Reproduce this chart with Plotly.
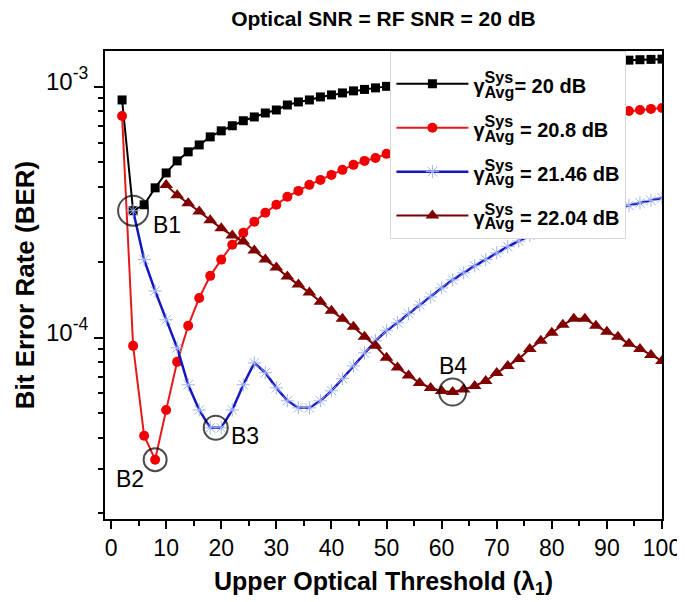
"""
BER vs upper optical threshold, four system SNR levels
"""

import numpy as np
import plotly.graph_objects as go

# Upper optical threshold (lambda_1) for each curve
thr_20 = list(range(2, 101, 2))
thr_208 = list(range(2, 101, 2))
thr_2146 = list(range(4, 101, 2))
thr_2204 = list(range(10, 101, 2))

# Bit error rate
ber_20 = [8.87e-4, 3.21e-4, 3.39e-4, 3.96e-4, 4.54e-4, 5.07e-4, 5.51e-4, 5.87e-4, 6.32e-4, 6.68e-4,
          7.00e-4, 7.33e-4, 7.59e-4, 7.87e-4, 8.09e-4, 8.47e-4, 8.71e-4, 8.87e-4, 9.12e-4, 9.29e-4,
          9.46e-4, 9.64e-4, 9.77e-4, 9.91e-4, 1.005e-3, 1.018e-3, 1.031e-3, 1.044e-3, 1.057e-3, 1.069e-3,
          1.081e-3, 1.093e-3, 1.105e-3, 1.117e-3, 1.130e-3, 1.142e-3, 1.154e-3, 1.166e-3, 1.178e-3, 1.190e-3,
          1.203e-3, 1.217e-3, 1.230e-3, 1.243e-3, 1.256e-3, 1.268e-3, 1.278e-3, 1.283e-3, 1.287e-3, 1.290e-3]

ber_208 = [7.66e-4, 9.29e-5, 4.07e-5, 3.27e-5, 5.16e-5, 8.02e-5, 1.117e-4, 1.442e-4, 1.766e-4, 2.05e-4,
           2.35e-4, 2.62e-4, 2.90e-4, 3.15e-4, 3.39e-4, 3.65e-4, 3.85e-4, 4.07e-4, 4.26e-4, 4.46e-4,
           4.67e-4, 4.89e-4, 5.07e-4, 5.21e-4, 5.41e-4, 5.58e-4, 5.74e-4, 5.89e-4, 6.04e-4, 6.18e-4,
           6.32e-4, 6.45e-4, 6.58e-4, 6.70e-4, 6.82e-4, 6.94e-4, 7.05e-4, 7.16e-4, 7.27e-4, 7.37e-4,
           7.47e-4, 7.57e-4, 7.66e-4, 7.75e-4, 7.84e-4, 7.93e-4, 8.02e-4, 8.09e-4, 8.17e-4, 8.24e-4]

ber_2146 = [3.21e-4, 2.05e-4, 1.538e-4, 1.180e-4, 9.12e-5, 6.50e-5, 5.16e-5, 4.38e-5, 4.38e-5, 5.16e-5,
            6.50e-5, 7.94e-5, 7.26e-5, 6.32e-5, 5.61e-5, 5.26e-5, 5.26e-5, 5.61e-5, 6.15e-5, 6.87e-5,
            7.73e-5, 8.71e-5, 9.73e-5, 1.067e-4, 1.148e-4, 1.247e-4, 1.352e-4, 1.455e-4, 1.581e-4, 1.702e-4,
            1.816e-4, 1.936e-4, 2.05e-4, 2.18e-4, 2.31e-4, 2.43e-4, 2.56e-4, 2.69e-4, 2.81e-4, 2.93e-4,
            3.04e-4, 3.14e-4, 3.21e-4, 3.27e-4, 3.32e-4, 3.37e-4, 3.45e-4, 3.53e-4, 3.61e-4]

ber_2204 = [4.06e-4, 3.70e-4, 3.44e-4, 3.19e-4, 2.94e-4, 2.73e-4, 2.56e-4, 2.42e-4, 2.23e-4, 2.05e-4,
            1.905e-4, 1.754e-4, 1.63e-4, 1.514e-4, 1.393e-4, 1.282e-4, 1.191e-4, 1.107e-4, 1.009e-4, 9.29e-5,
            8.32e-5, 7.62e-5, 7.08e-5, 6.61e-5, 6.31e-5, 6.14e-5, 6.08e-5, 6.22e-5, 6.43e-5, 6.73e-5,
            7.24e-5, 7.73e-5, 8.24e-5, 9.03e-5, 9.73e-5, 1.047e-4, 1.127e-4, 1.191e-4, 1.191e-4, 1.117e-4,
            1.057e-4, 1.009e-4, 9.46e-5, 9.03e-5, 8.55e-5, 8.09e-5]

legend_names = ['20', '20.8', '21.46', '22.04']
point_labels = ['B1', 'B2', 'B3', 'B4']
y_tickvals = [1e-4, 1e-3]
y_ticktext = ['-4', '-3']

FONT = 'Arial, Liberation Sans, sans-serif'


def gamma_name(val, gap=' '):
    # legend font is 23px so that Sys/Avg come out ~16px; main text kept at 20px.
    # the negative letter-spacing pulls "Avg" back under "Sys"
    return (f"<span style='font-size:20px'>γ</span><sup>Sys</sup>"
            f"<span style='letter-spacing:-35px'>\u00a0</span>"
            f"<sub>Avg</sub><span style='font-size:20px'>{gap}= {val} dB</span>")


fig = go.Figure()

fig.add_trace(go.Scatter(
    x=thr_20, y=ber_20, mode='lines+markers', name=gamma_name(legend_names[0], ''),
    line=dict(color='black', width=2),
    marker=dict(symbol='square', size=9, color='black'),
    legendgroup='a'
))

fig.add_trace(go.Scatter(
    x=thr_208, y=ber_208, mode='lines+markers', name=gamma_name(legend_names[1]),
    line=dict(color='#e31a1c', width=2),
    marker=dict(symbol='circle', size=10, color='#f00000'),
    legendgroup='b'
))

fig.add_trace(go.Scatter(
    x=thr_2146, y=ber_2146, mode='lines+markers', name=gamma_name(legend_names[2]),
    line=dict(color='#1414c0', width=2.5),
    marker=dict(symbol='asterisk-open', size=11, color='#a0b4f0',
                line=dict(width=1, color='#a0b4f0')),
    legendgroup='c'
))

fig.add_trace(go.Scatter(
    x=thr_2204, y=ber_2204, mode='lines+markers', name=gamma_name(legend_names[3]),
    line=dict(color='#7a0000', width=2),
    marker=dict(symbol='triangle-up', size=12, color='#800000'),
    legendgroup='d'
))

# Highlighted optimum points B1..B4
b3_min = min(ber_2146)
b3_x = np.mean([t for t, v in zip(thr_2146, ber_2146) if v == b3_min])
i2 = int(np.argmin(ber_208))
i4 = int(np.argmin(ber_2204))
mark_x = [thr_2146[0], thr_208[i2], b3_x, thr_2204[i4]]
mark_y = [ber_2146[0], ber_208[i2], b3_min, ber_2204[i4]]

fig.add_trace(go.Scatter(
    x=mark_x, y=mark_y, mode='markers', showlegend=False, hoverinfo='skip',
    marker=dict(symbol='circle-open', size=[30, 23, 24, 27], color='black',
                line=dict(width=2, color='black'))
))

shifts = [(34, -14), (-25, -19), (29, -8), (0, 26)]
for lab, xv, yv, (dx, dy) in zip(point_labels, mark_x, mark_y, shifts):
    fig.add_annotation(
        x=xv, y=np.log10(yv), text=lab, showarrow=False,
        xshift=dx, yshift=dy, font=dict(family=FONT, size=23, color='black')
    )

fig.update_layout(
    width=685, height=602,
    margin=dict(l=97, r=24, t=43, b=91),
    paper_bgcolor='white', plot_bgcolor='white',
    title=dict(text='Optical SNR = RF SNR = 20 dB', x=0.5, xref='paper', xanchor='center',
               y=1 - 11 / 602, yanchor='middle',
               font=dict(family=FONT, size=21, color='black', weight='bold')),
    legend=dict(x=0.5124, y=1, xanchor='left', yanchor='top',
                bgcolor='white', bordercolor='#d8d8d8', borderwidth=1,
                font=dict(family=FONT, size=23, color='black', weight='bold'),
                title=dict(text=' ', font=dict(size=8)),
                tracegroupgap=11, itemwidth=72),
    showlegend=True
)

fig.update_xaxes(
    range=[-1.1, 100], tick0=0, dtick=10,
    showline=True, linecolor='black', linewidth=1.5, mirror=True,
    ticks='outside', ticklen=8, tickwidth=1.5, tickcolor='black',
    minor=dict(dtick=5, ticks='outside', ticklen=5, tickwidth=1.5, tickcolor='black'),
    showgrid=False, zeroline=False,
    tickfont=dict(family=FONT, size=23, color='black'),
    title=dict(text='Upper Optical Threshold (λ<sub>1</sub>)', standoff=12,
               font=dict(family=FONT, size=25, color='black', weight='bold'))
)

fig.update_yaxes(
    type='log', range=[-4.722, -2.857], automargin=False,
    tickvals=y_tickvals,
    ticktext=[f"<span style='font-size:24px'>10</span><sup>{t}</sup>" for t in y_ticktext],
    ticklabelshift=-6, ticklabelstandoff=1,
    showline=True, linecolor='black', linewidth=1.5, mirror=True,
    ticks='outside', ticklen=9, tickwidth=1.5, tickcolor='black',
    minor=dict(dtick='D1', ticks='outside', ticklen=5, tickwidth=1.5, tickcolor='black'),
    showgrid=False, zeroline=False,
    tickfont=dict(family=FONT, size=25, color='black'),
    title=dict(text='Bit Error Rate (BER)', standoff=4,
               font=dict(family=FONT, size=26, color='black', weight='bold'))
)

fig.write_html("out.html")
